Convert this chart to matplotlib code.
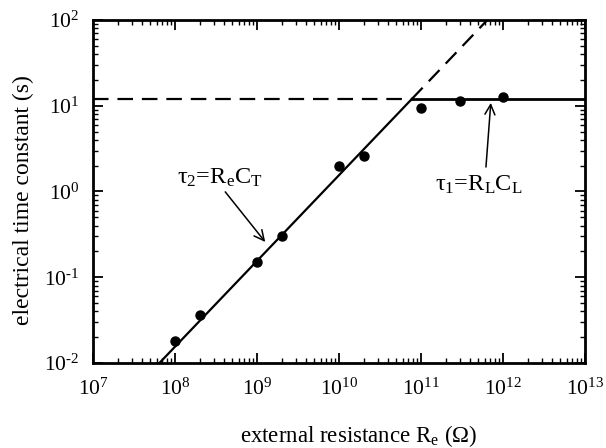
import matplotlib
matplotlib.use("Agg")
import matplotlib.pyplot as plt
import numpy as np
from matplotlib.ticker import LogLocator, FuncFormatter

plt.rcParams['font.family'] = ['Liberation Serif', 'DejaVu Serif']
plt.rcParams['mathtext.fontset'] = 'custom'
plt.rcParams['mathtext.rm'] = 'Liberation Serif'
plt.rcParams['mathtext.it'] = 'Liberation Serif:italic'

# measured points
re_meas = [1e8, 2e8, 1e9, 2e9, 1e10, 2e10, 1e11, 3e11, 1e12]
tau_meas = [0.018, 0.036, 0.15, 0.30, 2.0, 2.6, 9.4, 11.4, 12.6]

# model: tau2 = Re*CT, tau1 = RL*CL
CT = 1.55e-10
tau1 = 12.0
re_cross = tau1 / CT


def pow10(v, pos):
    return '10$^{\\text{%d}}$' % int(round(np.log10(v)))


fig = plt.figure(figsize=(6.06, 4.48), dpi=100)
ax = fig.add_axes([0.1535, 0.1897, 0.8118, 0.7657])
ax.set_xscale('log')
ax.set_yscale('log')
ax.set_xlim(1e7, 1e13)
ax.set_ylim(1e-2, 1e2)

# sloped line: solid below the crossing, dashed above
r_solid = np.array([1e7, re_cross])
r_dash = np.array([re_cross, 1e13])
ax.plot(r_solid, CT * r_solid, 'k-', lw=1.6)
ax.plot(r_dash, CT * r_dash, 'k-', lw=1.6, dashes=(7, 4))
# flat line: dashed left of the crossing, solid right
ax.plot([1e7, re_cross], [tau1, tau1], 'k-', lw=1.6, dashes=(7, 4))
ax.plot([re_cross, 1e13], [tau1, tau1], 'k-', lw=2)

ax.plot(re_meas, tau_meas, 'ko', ms=6.5)

ax.text(3.5e8, 1.43, 'τ$_2$=R$_\\mathrm{e}$C$_\\mathrm{T}$', fontsize=17.5,
        ha='center', va='center')
ax.annotate('', xy=(1.26e9, 0.258), xytext=(4.1e8, 0.99),
            arrowprops=dict(arrowstyle='->', color='k', lw=1.1,
                            shrinkA=0, shrinkB=0, mutation_scale=18))
ax.text(5.1e11, 1.19, 'τ$_1$=R$_\\mathrm{L}$C$_\\mathrm{L}$', fontsize=17.5,
        ha='center', va='center')
ax.annotate('', xy=(7.1e11, 10.8), xytext=(6.2e11, 1.93),
            arrowprops=dict(arrowstyle='->', color='k', lw=1.1,
                            shrinkA=0, shrinkB=0, mutation_scale=18))

ax.set_xlabel('external resistance R$_\\mathrm{e}$ (Ω)', fontsize=16.5)
ax.set_ylabel('electrical time constant (s)', fontsize=17)
ax.xaxis.set_label_coords(0.539, -0.175)
ax.yaxis.set_label_coords(-0.141, 0.475)
ax.yaxis.label.set_va('center')

ax.xaxis.set_major_locator(LogLocator(base=10, numticks=10))
ax.yaxis.set_major_locator(LogLocator(base=10, numticks=10))
ax.xaxis.set_minor_locator(LogLocator(base=10, subs=np.arange(2, 10), numticks=20))
ax.yaxis.set_minor_locator(LogLocator(base=10, subs=np.arange(2, 10), numticks=20))
ax.xaxis.set_major_formatter(FuncFormatter(pow10))
ax.yaxis.set_major_formatter(FuncFormatter(pow10))
ax.tick_params(which='both', direction='in', top=True, right=True, labelsize=15.5)
ax.tick_params(axis='x', which='major', pad=11)
ax.tick_params(axis='y', which='major', pad=10)
ax.tick_params(which='major', length=7, width=1.3)
ax.tick_params(which='minor', length=3.5, width=1)
for s in ax.spines.values():
    s.set_linewidth(2)

fig.savefig('out.png', dpi=100)
